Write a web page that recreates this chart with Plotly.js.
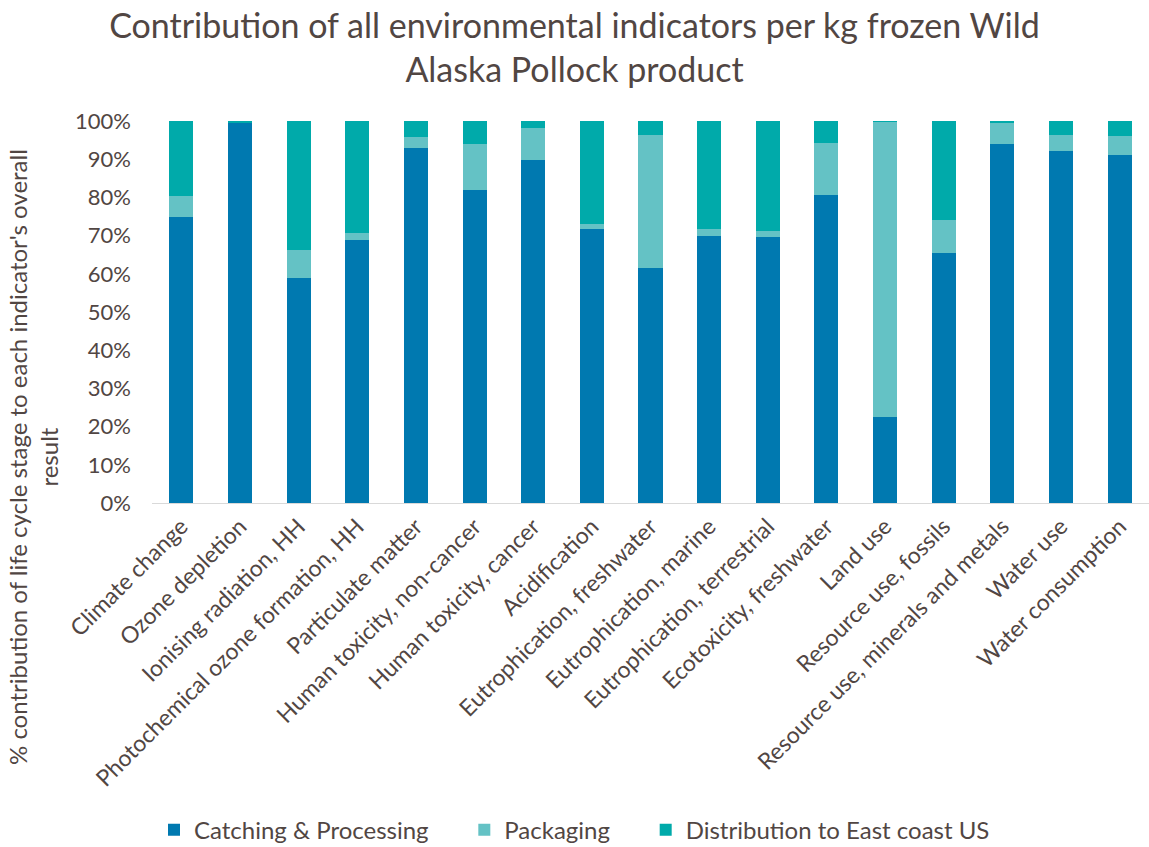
<!DOCTYPE html>
<html>
<head>
<meta charset="utf-8">
<script src="https://cdn.plot.ly/plotly-3.0.1.min.js"></script>
<style>
  html, body { margin: 0; padding: 0; background: #ffffff; }
  #chart { width: 1149px; height: 847px; }
</style>
</head>
<body>
<div id="chart"></div>
<script>
// Impact categories (environmental indicators)
const indicators = [
  "Climate change",
  "Ozone depletion",
  "Ionising radiation, HH",
  "Photochemical ozone formation, HH",
  "Particulate matter",
  "Human toxicity, non-cancer",
  "Human toxicity, cancer",
  "Acidification",
  "Eutrophication, freshwater",
  "Eutrophication, marine",
  "Eutrophication, terrestrial",
  "Ecotoxicity, freshwater",
  "Land use",
  "Resource use, fossils",
  "Resource use, minerals and metals",
  "Water use",
  "Water consumption"
];

// Share of each life cycle stage in each indicator (%)
const catchingProcessing = [75.0, 99.6, 59.0, 68.9, 93.0, 81.9, 89.9, 71.8, 61.4, 70.0, 69.7, 80.7, 22.5, 65.5, 94.1, 92.2, 91.2];
const packaging          = [ 5.4,  0.1,  7.2,  1.8,  2.8, 12.2,  8.3,  1.2, 35.0,  1.8,  1.5, 13.5, 77.4,  8.7,  5.6,  4.2,  5.0];
const distribution       = [19.6,  0.3, 33.8, 29.3,  4.2,  5.9,  1.8, 27.0,  3.6, 28.2, 28.8,  5.8,  0.1, 25.8,  0.3,  3.6,  3.8];

const seriesNames = ["Catching &amp; Processing", "Packaging", "Distribution to East coast US"];
const seriesColors = ["#0079B0", "#64C2C5", "#00AAAA"];
const seriesValues = [catchingProcessing, packaging, distribution];

const titleText = "Contribution of all environmental indicators per kg frozen Wild<br>Alaska Pollock product";
const yTitleText = "% contribution of life cycle stage to each indicator's overall<br>result";

const textColor = "#514643";
const fontFamily = "Lato, 'Open Sans', sans-serif";

// extra room after each legend label so the entries sit further apart
const legendPad = "\u00a0\u00a0\u00a0\u00a0\u00a0";

const traces = seriesValues.map((vals, i) => ({
  type: "bar",
  name: seriesNames[i] + (i < seriesValues.length - 1 ? legendPad : ""),
  x: indicators,
  y: vals.map(v => v / 100),
  marker: { color: seriesColors[i], line: { width: 0 } },
  hoverinfo: "x+y"
}));

const layout = {
  width: 1149,
  height: 847,
  barmode: "stack",
  bargap: 0.59,
  paper_bgcolor: "#ffffff",
  plot_bgcolor: "#ffffff",
  font: { family: fontFamily, color: textColor, size: 22 },
  title: {
    text: titleText,
    font: { family: fontFamily, size: 34, color: textColor },
    x: 0.5,
    xanchor: "center",
    xref: "container",
    y: 0.955,
    yanchor: "top",
    yref: "container"
  },
  margin: { l: 152, r: 0, t: 121, b: 344, autoexpand: false },
  xaxis: {
    type: "category",
    tickangle: -45,
    tickfont: { size: 23, color: textColor },
    showline: true,
    linecolor: "#d9d9d9",
    linewidth: 1,
    ticks: "",
    showgrid: false,
    automargin: false
  },
  yaxis: {
    range: [0, 1],
    tickformat: ".0%",
    dtick: 0.1,
    tickfont: { size: 22, color: textColor },
    ticklabelstandoff: 20,
    showgrid: false,
    zeroline: false,
    showline: false,
    ticks: "",
    automargin: false
  },
  annotations: [{
    text: yTitleText,
    textangle: -90,
    xref: "paper",
    yref: "paper",
    x: 0,
    xshift: -119,
    xanchor: "center",
    y: 0.5,
    yshift: -145,
    yanchor: "middle",
    showarrow: false,
    font: { size: 24, color: textColor, family: fontFamily }
  }],
  legend: {
    orientation: "h",
    x: 0.5,
    xref: "container",
    xanchor: "center",
    y: 0.02,
    yref: "container",
    yanchor: "middle",
    font: { size: 24, color: textColor },
    itemwidth: 30,
    traceorder: "normal"
  },
  showlegend: true
};

Plotly.newPlot("chart", traces, layout, { displayModeBar: false, responsive: false });
</script>
</body>
</html>
